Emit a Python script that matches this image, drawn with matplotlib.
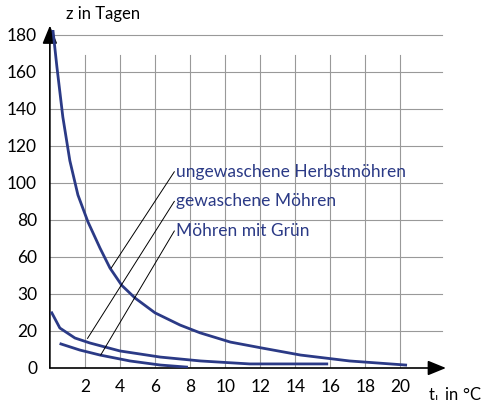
import numpy as np
import matplotlib
matplotlib.use("Agg")
import matplotlib.pyplot as plt

# y axis is not linear: tick labels are evenly spaced
y_ticks = [0, 20, 30, 60, 80, 100, 120, 140, 160, 180]
x_ticks = [2, 4, 6, 8, 10, 12, 14, 16, 18, 20]

herbst_x = [0.17, 0.4, 0.74, 1.14, 1.6, 2.17, 2.86, 3.43, 4.1, 4.86, 6.0, 7.43, 8.57, 10.3, 12.1, 14.3, 17.1, 20.3]
herbst_z = [183, 162.8, 135.6, 112, 93.5, 79, 64.8, 51, 37, 28.9, 24.9, 21.6, 19, 14, 10.8, 7, 3.8, 1.6]
gewaschen_x = [0.11, 0.57, 1.43, 2.29, 4.0, 6.3, 8.6, 11.4, 15.8]
gewaschen_z = [24.9, 20.8, 16.2, 13.5, 9.2, 5.9, 3.8, 2.2, 2.2]
gruen_x = [0.63, 1.71, 2.86, 4.57, 6.3, 7.8]
gruen_z = [13, 9.7, 7, 3.8, 1.6, 0.5]

labels = ["ungewaschene Herbstmöhren", "gewaschene Möhren", "Möhren mit Grün"]

pos = np.arange(len(y_ticks))


def to_pos(z):
    z = np.asarray(z, dtype=float)
    p = np.interp(z, y_ticks, pos)
    # extrapolate above top tick
    return np.where(z > y_ticks[-1], pos[-1] + (z - y_ticks[-1]) / 20, p)


plt.rcParams["font.family"] = ["Lato", "DejaVu Sans"]
col = "#2b3a86"

fig = plt.figure(figsize=(4.86, 4.0), dpi=100)
ax = fig.add_axes([0.099, 0.08, 0.815, 0.845])
ax.set_xlim(-0.1, 22.5)
ax.set_ylim(0, 9.13)
for s in ax.spines.values():
    s.set_visible(False)

for x in x_ticks:
    ax.plot([x, x], [0, 8.45], color="#999999", lw=0.8, zorder=1)
for p in pos[1:]:
    ax.plot([0, 22.4], [p, p], color="#999999", lw=0.8, zorder=1)

# axes with arrows
arrow = dict(arrowstyle="-|>,head_length=1.1,head_width=0.45", color="black", lw=1.2, shrinkA=0, shrinkB=0)
ax.annotate("", xy=(22.6, 0), xytext=(0, 0), arrowprops=arrow, annotation_clip=False)
ax.annotate("", xy=(0, 9.25), xytext=(0, 0), arrowprops=arrow, annotation_clip=False)

ax.set_xticks(x_ticks)
ax.set_xticklabels([str(v) for v in x_ticks], fontsize=12.5)
ax.set_yticks(pos)
ax.set_yticklabels([str(v) for v in y_ticks], fontsize=12.5)
ax.tick_params(length=0, pad=8)

ax.plot(herbst_x, to_pos(herbst_z), color=col, lw=2, zorder=3)
ax.plot(gewaschen_x, to_pos(gewaschen_z), color=col, lw=2, zorder=3)
ax.plot(gruen_x, to_pos(gruen_z), color=col, lw=2, zorder=3)

# labels with leader lines
label_y = [5.3, 4.5, 3.7]
targets = [(3.5, to_pos(51)), (2.15, to_pos(16)), (2.9, to_pos(7))]
for lab, ly, (tx, ty) in zip(labels, label_y, targets):
    ax.text(7.2, ly, lab, color=col, fontsize=12.5, va="center", ha="left")
    ax.plot([7.1, tx], [ly, ty], color="black", lw=0.7, zorder=4)

ax.text(0.9, 9.35, "z in Tagen", fontsize=12, ha="left", va="bottom", clip_on=False)
ax.text(21.6, -0.72, "t$_\\mathregular{L}$ in °C", fontsize=12, ha="left", va="center", clip_on=False)

fig.savefig("out.png", dpi=100)
